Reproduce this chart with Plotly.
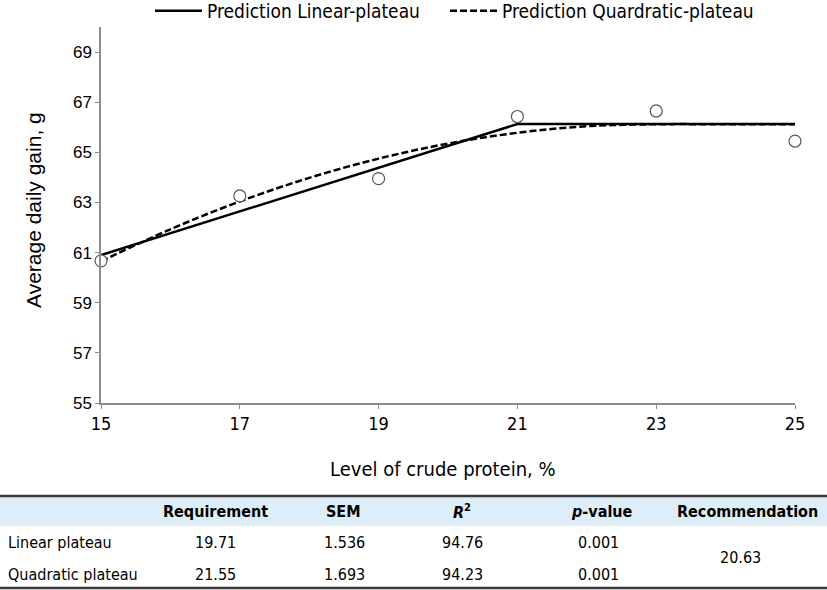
import plotly.graph_objects as go

# Observed data
cp_levels = [15, 17, 19, 21, 23, 25]
adg_obs = [60.67, 63.26, 63.95, 66.43, 66.65, 65.45]

# Linear-plateau prediction
lin_x = [15, 21, 25]
lin_y = [60.90, 66.13, 66.13]

# Quadratic-plateau prediction
quad_x = [15, 16, 17, 18, 19, 20, 21, 22, 23, 24, 25]
quad_y = [60.65, 61.93, 63.04, 63.98, 64.75, 65.35, 65.78, 66.04, 66.12, 66.12, 66.12]

x_ticks = [15, 17, 19, 21, 23, 25]
y_ticks = [55, 57, 59, 61, 63, 65, 67, 69]

# Table data
tbl_header = ["", "Requirement", "SEM", "R<sup>2</sup>", "p-value", "Recommendation"]
tbl_rows = ["Linear plateau", "Quadratic plateau"]
tbl_requirement = ["19.71", "21.55"]
tbl_sem = ["1.536", "1.693"]
tbl_r2 = ["94.76", "94.23"]
tbl_p = ["0.001", "0.001"]
tbl_recommendation = "20.63"

NARROW = "DejaVu Sans Condensed, Liberation Sans Narrow, Liberation Sans"
ARIAL = "Liberation Sans, Arial"

W, H = 827, 590
ML, MR, MT, MB = 101, 32, 27, 187
PW = W - ML - MR
PH = H - MT - MB

def px(xp):
    return (xp - ML) / PW

def py(yp):
    return (H - MB - yp) / PH

fig = go.Figure()
fig.add_trace(go.Scatter(x=lin_x, y=lin_y, mode="lines", name="Prediction Linear-plateau",
                         legend="legend",
                         line=dict(color="black", width=2.5)))
fig.add_trace(go.Scatter(x=quad_x, y=quad_y, mode="lines", name="Prediction Quardratic-plateau",
                         legend="legend2",
                         line=dict(color="black", width=2.5, dash="7px,3px", shape="spline")))
fig.add_trace(go.Scatter(x=cp_levels, y=adg_obs, mode="markers", showlegend=False, cliponaxis=False,
                         marker=dict(symbol="circle", size=12, color="white",
                                     line=dict(color="#4a5e50", width=1.2))))

leg_common = dict(orientation="h", yanchor="middle", xanchor="left",
                  font=dict(family=NARROW, size=19, color="black"),
                  itemwidth=47, bgcolor="rgba(0,0,0,0)", borderwidth=0)

fig.update_layout(
    width=W, height=H,
    margin=dict(l=ML, r=MR, t=MT, b=MB, autoexpand=False),
    plot_bgcolor="white", paper_bgcolor="white",
    showlegend=True,
    legend=dict(x=px(150), y=py(11), **leg_common),
    legend2=dict(x=px(445), y=py(11), **leg_common),
    xaxis=dict(range=[15, 25], tickvals=x_ticks, showgrid=False, zeroline=False,
               showline=True, linecolor="#8c8c8c", linewidth=1.5, automargin=False,
               ticks="outside", tickcolor="#8c8c8c", ticklen=4,
               tickfont=dict(family=NARROW, size=18, color="black")),
    yaxis=dict(range=[55, 70], tickvals=y_ticks, showgrid=False, zeroline=False,
               showline=True, linecolor="#8c8c8c", linewidth=1.5, automargin=False,
               ticks="outside", tickcolor="#8c8c8c", ticklen=4,
               tickfont=dict(family=ARIAL, size=17, color="black")),
)

anns = []
# axis titles
anns.append(dict(text="Level of crude protein, %", x=px(443), y=py(469), xref="paper", yref="paper",
                 showarrow=False, xanchor="center", yanchor="middle",
                 font=dict(family=NARROW, size=20, color="black")))
anns.append(dict(text="Average daily gain, g", x=px(33), y=py(210), xref="paper", yref="paper",
                 showarrow=False, xanchor="center", yanchor="middle", textangle=-90,
                 font=dict(family=ARIAL, size=21, color="black")))

# Table drawn with shapes & annotations
shapes = []
shapes.append(dict(type="rect", xref="paper", yref="paper", x0=px(0), x1=px(827),
                   y0=py(526), y1=py(496), fillcolor="#ddeef9", line=dict(width=0), layer="below"))
shapes.append(dict(type="line", xref="paper", yref="paper", x0=px(0), x1=px(827),
                   y0=py(496), y1=py(496), line=dict(color="#3a3a3a", width=2.5)))
shapes.append(dict(type="line", xref="paper", yref="paper", x0=px(0), x1=px(827),
                   y0=py(588), y1=py(588), line=dict(color="#3a3a3a", width=2.5)))
fig.update_layout(shapes=shapes)

head_x = [None, 215, 343, 462, 602, 747]
val_x = [None, 215, 344, 462, 598, 740]
for i, h in enumerate(tbl_header):
    if not h:
        continue
    if h == "R<sup>2</sup>":
        txt = "<b><i>R</i><sup>2</sup></b>"
    elif h == "p-value":
        txt = "<b><i>p</i>-value</b>"
    else:
        txt = "<b>" + h + "</b>"
    anns.append(dict(text=txt, x=px(head_x[i]), y=py(512), xref="paper", yref="paper",
                     showarrow=False, xanchor="center", yanchor="middle",
                     font=dict(family=NARROW, size=16, color="black")))
row_y = [542, 574]
for r in range(2):
    anns.append(dict(text=tbl_rows[r], x=px(6), y=py(row_y[r]), xref="paper", yref="paper",
                     showarrow=False, xanchor="left", yanchor="middle",
                     font=dict(family=NARROW, size=16, color="black")))
    for c, vals in zip([1, 2, 3, 4], [tbl_requirement, tbl_sem, tbl_r2, tbl_p]):
        anns.append(dict(text=vals[r], x=px(val_x[c]), y=py(row_y[r]), xref="paper", yref="paper",
                         showarrow=False, xanchor="center", yanchor="middle",
                         font=dict(family=NARROW, size=16, color="black")))
anns.append(dict(text=tbl_recommendation, x=px(val_x[5]), y=py(557), xref="paper", yref="paper",
                 showarrow=False, xanchor="center", yanchor="middle",
                 font=dict(family=NARROW, size=16, color="black")))
fig.update_layout(annotations=anns)

fig.write_html("out.html", config={"displayModeBar": False},
               post_script="document.body.style.margin='0';document.body.style.overflow='hidden';")
